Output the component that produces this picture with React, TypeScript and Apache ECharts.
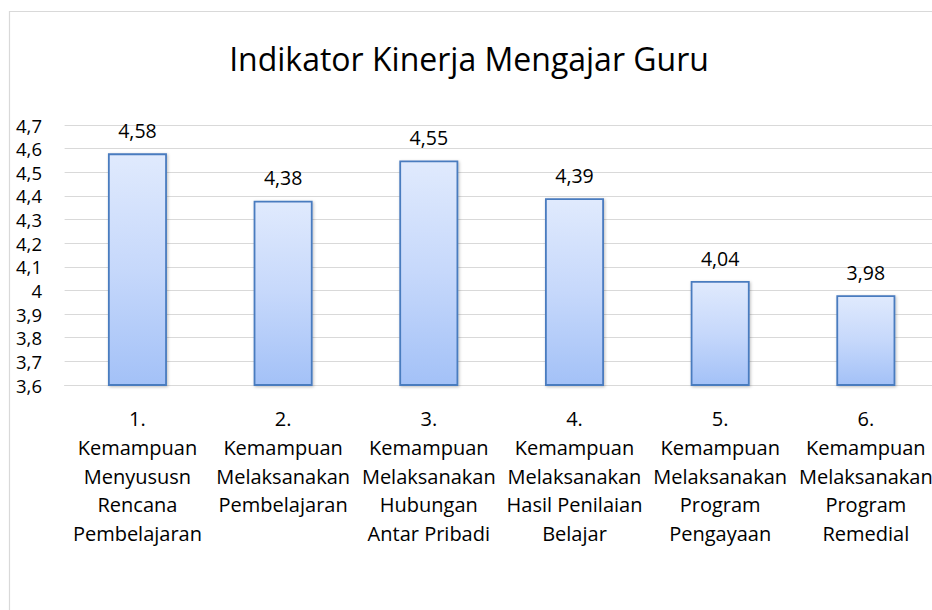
import React, { useEffect, useRef } from "react";
import * as echarts from "echarts";

const TITLE = "Indikator Kinerja Mengajar Guru";

const CATEGORIES = [
  "1.\nKemampuan\nMenyususn\nRencana\nPembelajaran",
  "2.\nKemampuan\nMelaksanakan\nPembelajaran",
  "3.\nKemampuan\nMelaksanakan\nHubungan\nAntar Pribadi",
  "4.\nKemampuan\nMelaksanakan\nHasil Penilaian\nBelajar",
  "5.\nKemampuan\nMelaksanakan\nProgram\nPengayaan",
  "6.\nKemampuan\nMelaksanakan\nProgram\nRemedial",
];

const VALUES = [4.58, 4.38, 4.55, 4.39, 4.04, 3.98];

const Y_MIN = 3.6;
const Y_MAX = 4.7;
const Y_STEP = 0.1;

const FONT = "'Open Sans', 'Noto Sans', sans-serif";

const fmt = (v: number) => {
  const r = Math.round(v * 100) / 100;
  return String(r).replace(".", ",");
};

export default function App() {
  const ref = useRef<HTMLDivElement>(null);

  useEffect(() => {
    if (!ref.current) return;
    const chart = echarts.init(ref.current, undefined, { renderer: "svg" });
    chart.setOption({
      animation: false,
      backgroundColor: "#ffffff",
      title: {
        text: TITLE,
        left: 464,
        top: 37,
        textAlign: "center",
        textStyle: {
          fontFamily: FONT,
          fontSize: 32,
          fontWeight: "normal",
          color: "#000000",
        },
      },
      graphic: [
        {
          type: "rect",
          shape: { x: 9.5, y: 11.5, width: 2000, height: 2000 },
          style: { fill: "none", stroke: "#d9d9d9", lineWidth: 1.2 },
          silent: true,
          z: 100,
        },
      ],
      grid: {
        left: 64.6,
        right: 21.3,
        top: 125,
        bottom: 225,
        containLabel: false,
      },
      xAxis: {
        type: "category",
        data: CATEGORIES,
        axisLine: { show: true, lineStyle: { color: "#d9d9d9", width: 1 } },
        axisTick: { show: false },
        axisLabel: {
          interval: 0,
          margin: 19.5,
          fontFamily: FONT,
          fontSize: 20,
          lineHeight: 28.7,
          color: "#000000",
          align: "center",
        },
      },
      yAxis: {
        type: "value",
        min: Y_MIN,
        max: Y_MAX,
        interval: Y_STEP,
        axisLine: { show: false },
        axisTick: { show: false },
        splitLine: { show: true, lineStyle: { color: "#d9d9d9", width: 1 } },
        axisLabel: {
          margin: 22.6,
          fontFamily: FONT,
          fontSize: 18.5,
          lineHeight: 20,
          color: "#000000",
          formatter: (v: number) => fmt(v),
        },
      },
      series: [
        {
          type: "bar",
          data: VALUES,
          barWidth: "40.5%",
          itemStyle: {
            color: new echarts.graphic.LinearGradient(0, 0, 0, 1, [
              { offset: 0, color: "#e0eafd" },
              { offset: 0.5, color: "#c6d8fb" },
              { offset: 1, color: "#a3c1f7" },
            ]),
            borderColor: "#4a7bbf",
            borderWidth: 1.8,
            shadowColor: "rgba(0,0,0,0.25)",
            shadowBlur: 3,
            shadowOffsetX: 1,
            shadowOffsetY: 1,
          },
          label: {
            show: true,
            position: "top",
            distance: 13,
            fontFamily: FONT,
            fontSize: 19.5,
            color: "#000000",
            formatter: (p: any) => fmt(p.value),
          },
        },
      ],
    });
    return () => chart.dispose();
  }, []);

  return (
    <div
      style={{
        position: "fixed",
        left: 0,
        top: 0,
        width: 932,
        height: 610,
        overflow: "hidden",
        background: "#fff",
      }}
    >
      <div ref={ref} style={{ width: 960, height: 610 }} />
    </div>
  );
}
